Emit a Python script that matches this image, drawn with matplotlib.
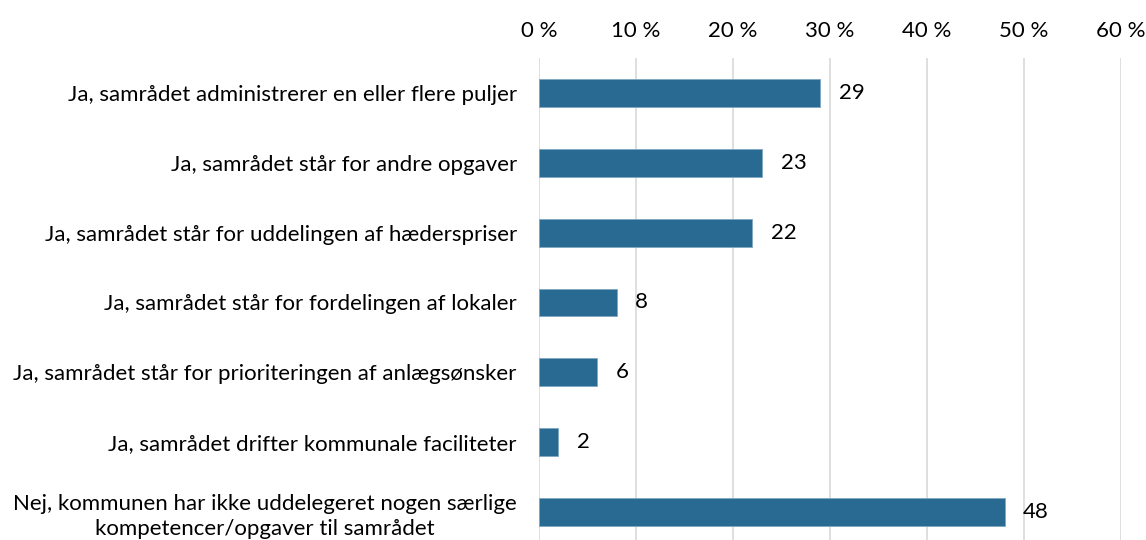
import matplotlib
matplotlib.use("Agg")
import matplotlib.pyplot as plt
import numpy as np

plt.rcParams['font.family'] = ['Lato', 'DejaVu Sans']

categories = [
    "Ja, samrådet administrerer en eller flere puljer",
    "Ja, samrådet står for andre opgaver",
    "Ja, samrådet står for uddelingen af hæderspriser",
    "Ja, samrådet står for fordelingen af lokaler",
    "Ja, samrådet står for prioriteringen af anlægsønsker",
    "Ja, samrådet drifter kommunale faciliteter",
    "Nej, kommunen har ikke uddelegeret nogen særlige\nkompetencer/opgaver til samrådet",
]
values = [29, 23, 22, 8, 6, 2, 48]
xticks = [0, 10, 20, 30, 40, 50, 60]

fig = plt.figure(figsize=(11.46, 5.4), dpi=100)
ax = fig.add_axes([539 / 1146, -7 / 540, 582 / 1146, 489 / 540])

y = np.arange(len(categories))
ax.barh(y, values, height=0.4, color='#286A92', edgecolor='#7FA6C2', linewidth=0.6, zorder=3)

for yi, v in zip(y, values):
    ax.text(v + 1.9, yi, str(v), va='center', ha='left', fontsize=16, color='black')

ax.set_xlim(0, 60)
ax.set_ylim(len(categories) - 0.5, -0.5)
ax.set_yticks(y)
ax.set_yticklabels(categories, fontsize=16, multialignment='center', linespacing=1.3)
ax.set_xticks(xticks)
ax.set_xticklabels([f"{t} %" for t in xticks], fontsize=16)
ax.xaxis.tick_top()
ax.tick_params(axis='both', length=0)
ax.tick_params(axis='x', pad=12)
ax.tick_params(axis='y', pad=16)
ax.grid(axis='x', color='#D9D9D9', linewidth=1.2, zorder=0)
for s in ax.spines.values():
    s.set_visible(False)

fig.savefig("out.png", dpi=100)
